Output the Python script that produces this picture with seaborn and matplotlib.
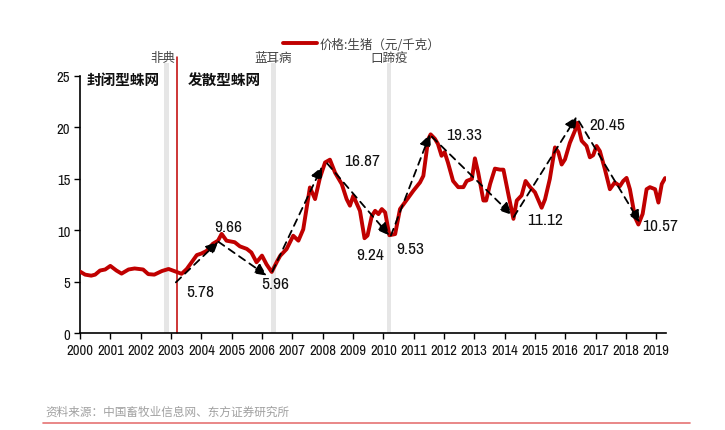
import matplotlib
matplotlib.use("Agg")
import matplotlib.pyplot as plt
import seaborn as sns
import pandas as pd

# ---------------- data ----------------
years = [2000.00, 2000.17, 2000.37, 2000.50, 2000.66, 2000.83, 2001.00, 2001.20, 2001.37, 2001.60,
         2001.80, 2002.08, 2002.25, 2002.45, 2002.70, 2002.92, 2003.15, 2003.35, 2003.52, 2003.68,
         2003.85, 2004.00, 2004.17, 2004.38, 2004.55, 2004.67, 2004.83, 2005.10, 2005.27, 2005.50,
         2005.65, 2005.82, 2006.00, 2006.15, 2006.32, 2006.50, 2006.60, 2006.81, 2007.03, 2007.20,
         2007.36, 2007.58, 2007.75, 2007.91, 2008.08, 2008.24, 2008.41, 2008.63, 2008.79, 2008.90,
         2009.01, 2009.23, 2009.38, 2009.48, 2009.62, 2009.73, 2009.84, 2009.95, 2010.06, 2010.20,
         2010.39, 2010.55, 2010.83, 2010.99, 2011.21, 2011.32, 2011.48, 2011.56, 2011.70, 2011.80,
         2011.92, 2012.02, 2012.13, 2012.30, 2012.47, 2012.64, 2012.75, 2012.92, 2013.02, 2013.13,
         2013.30, 2013.39, 2013.52, 2013.68, 2013.85, 2013.96, 2014.13, 2014.29, 2014.40, 2014.56,
         2014.69, 2014.84, 2015.00, 2015.22, 2015.33, 2015.49, 2015.66, 2015.77, 2015.88, 2015.99,
         2016.15, 2016.32, 2016.40, 2016.54, 2016.70, 2016.81, 2016.92, 2017.03, 2017.14, 2017.30,
         2017.47, 2017.63, 2017.80, 2017.91, 2018.02, 2018.13, 2018.30, 2018.41, 2018.55, 2018.68,
         2018.79, 2018.96, 2019.07, 2019.18, 2019.29]
prices = [6.0, 5.7, 5.6, 5.7, 6.1, 6.2, 6.55, 6.1, 5.8, 6.2,
          6.3, 6.2, 5.75, 5.7, 6.05, 6.25, 6.0, 5.78, 6.25, 6.9,
          7.6, 7.75, 8.0, 8.7, 9.0, 9.66, 9.0, 8.85, 8.45, 8.2,
          7.85, 6.9, 7.55, 6.7, 5.96, 7.0, 7.53, 8.18, 9.48, 9.0,
          10.1, 14.17, 13.04, 15.1, 16.6, 16.87, 15.6, 14.5, 13.04, 12.4,
          13.36, 11.9, 9.24, 9.5, 11.4, 11.9, 11.58, 12.07, 11.75, 9.53,
          9.64, 12.07, 13.2, 13.85, 14.66, 15.3, 18.86, 19.33, 18.9, 18.4,
          17.25, 17.6, 16.6, 14.8, 14.2, 14.2, 14.8, 15.0, 17.0, 15.6,
          12.9, 12.9, 14.5, 16.0, 15.9, 15.9, 13.4, 11.12, 12.9, 13.4,
          14.8, 14.2, 13.7, 12.2, 13.0, 15.0, 18.06, 17.6, 16.4, 16.9,
          18.5, 19.7, 20.45, 18.7, 18.2, 17.1, 17.3, 18.2, 17.7, 16.0,
          14.0, 14.66, 14.3, 14.8, 15.1, 14.0, 11.26, 10.57, 11.6, 14.0,
          14.2, 14.0, 12.7, 14.5, 15.08]

series_name = "价格:生猪（元/千克）"
x_tick_labels = [str(y) for y in range(2000, 2020)]
y_ticks = [0, 5, 10, 15, 20, 25]

# cobweb arrows (start -> end)
arrow_x0 = [2003.16, 2004.56, 2006.34, 2008.15, 2010.25, 2011.60, 2014.30, 2016.45]
arrow_y0 = [4.95, 8.90, 6.00, 16.50, 9.50, 19.10, 11.30, 20.60]
arrow_x1 = [2004.56, 2006.16, 2007.98, 2010.20, 2011.54, 2014.24, 2016.38, 2018.46]
arrow_y1 = [8.90, 5.60, 16.20, 9.50, 19.35, 11.50, 21.07, 10.75]

# turning-point labels
pt_text = ["5.78", "9.66", "5.96", "16.87", "9.24", "9.53", "19.33", "11.12", "20.45", "10.57"]
pt_x = [2003.96, 2004.88, 2006.45, 2009.30, 2009.57, 2010.88, 2012.65, 2015.32, 2017.39, 2019.12]
pt_y = [4.10, 10.40, 4.80, 16.75, 7.70, 8.20, 19.35, 11.10, 20.30, 10.45]

# events
event_names = ["非典", "蓝耳病", "口蹄疫"]
event_x = [2002.85, 2006.38, 2010.19]
policy_line_x = 2003.19
regime_text = ["封闭型蛛网", "发散型蛛网"]
regime_x = [2000.23, 2003.56]

source_text = "资料来源：中国畜牧业信息网、东方证券研究所"

# ---------------- plotting ----------------
sns.set_theme(style="ticks")
NUM = ["Liberation Sans Narrow", "Archivo Narrow", "Liberation Sans", "DejaVu Sans"]
CJK = ["Noto Sans CJK SC", "DejaVu Sans"]
plt.rcParams["font.family"] = NUM[:3] + CJK
plt.rcParams["axes.unicode_minus"] = False

fig = plt.figure(figsize=(7.25, 4.31), dpi=100)
ax = fig.add_axes([80 / 725, 1 - 334.3 / 431, (666 - 80) / 725, (334.3 - 77) / 431])

df = pd.DataFrame({"year": years, "price": prices})

# event bands (extend above the axes)
for ex in event_x:
    ax.axvspan(ex - 0.075, ex + 0.075, ymin=0, ymax=26.3 / 25, color="#E6E6E6",
               lw=0, clip_on=False, zorder=0)
ax.plot([policy_line_x, policy_line_x], [0, 26.8], color="#C00000", lw=1.1,
        clip_on=False, zorder=1)

sns.lineplot(data=df, x="year", y="price", ax=ax, color="#C00000", linewidth=2.8,
             label=series_name, zorder=3)

for x0, y0, x1, y1 in zip(arrow_x0, arrow_y0, arrow_x1, arrow_y1):
    ax.annotate("", xy=(x1, y1), xytext=(x0, y0),
                arrowprops=dict(arrowstyle="-|>,head_length=0.6,head_width=0.28",
                                linestyle=(0, (4, 3)), color="black",
                                lw=1.3, mutation_scale=12, shrinkA=0, shrinkB=0),
                zorder=4)

for t, x, y in zip(pt_text, pt_x, pt_y):
    ax.text(x, y, t, fontsize=12.5, family=NUM, ha="center", va="center",
            color="#111111", zorder=5)

for name, ex in zip(event_names, event_x):
    ax.text(ex - (0.12 if name == "非典" else 0), 26.8, name, fontsize=9, family=CJK,
            ha="center", va="center", color="#444444", clip_on=False)

for t, x in zip(regime_text, regime_x):
    ax.text(x, 24.7, t, fontsize=10.5, family=CJK, fontweight="bold", ha="left",
            va="center", color="#111111")

ax.set_xlim(2000, 2019.32)
ax.set_ylim(0, 25)
ax.set_xticks(list(range(2000, 2020)))
ax.set_xticklabels(x_tick_labels)
ax.set_yticks(y_ticks)
ax.set_xlabel("")
ax.set_ylabel("")
for lab in ax.get_xticklabels() + ax.get_yticklabels():
    lab.set_fontfamily(NUM)
    lab.set_fontsize(10.5)
    lab.set_color("#111111")
ax.tick_params(axis="both", direction="out", length=4, width=1, color="black", pad=3)
sns.despine(ax=ax)
for s in ["left", "bottom"]:
    ax.spines[s].set_color("black")
    ax.spines[s].set_linewidth(1.2)

leg = ax.legend(loc="center left", bbox_to_anchor=(283 / 725, 1 - 45 / 431),
                bbox_transform=fig.transFigure, frameon=False, handlelength=2.7,
                handletextpad=0.25, borderpad=0, borderaxespad=0,
                prop={"family": CJK, "size": 9})
for t in leg.get_texts():
    t.set_color("#444444")
for h in leg.get_lines():
    h.set_linewidth(2.8)

fig.text(45 / 725, 1 - 412 / 431, source_text, fontsize=8.4, family=CJK,
         color="#A0A0A0", ha="left", va="center")
fig.add_artist(plt.Line2D([43 / 725, 690 / 725], [1 - 424 / 431, 1 - 424 / 431],
                          transform=fig.transFigure, color="#E57373", lw=1.2))

fig.savefig("out.png", dpi=100)
